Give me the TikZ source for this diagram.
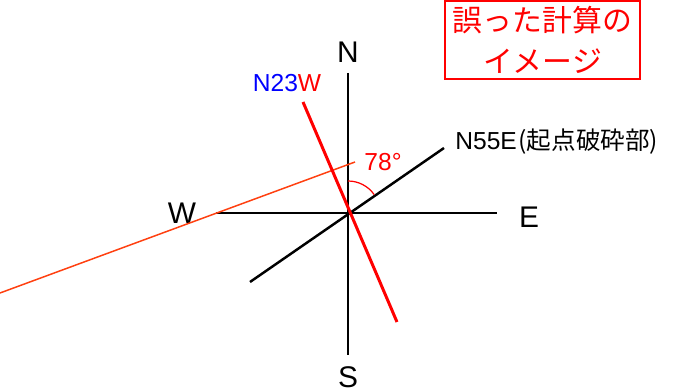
\documentclass[tikz,border=0pt]{standalone}
\usepackage{fontspec}
\setmainfont{Liberation Sans}
\newfontfamily\jp{Noto Sans CJK JP}
\usepackage{tikz}
\usetikzlibrary{positioning,calc}
\definecolor{wrongred}{HTML}{FF0000}
\definecolor{guide}{HTML}{FF4010}
\definecolor{bearing}{HTML}{0000FF}

\begin{document}
\begin{tikzpicture}[
  x=0.02cm, y=-0.02cm,
  axis/.style={line width=1.4pt, black},
  strike/.style={line width=1.7pt, wrongred},
  helper/.style={line width=0.85pt, guide},
  dir/.style={font=\fontsize{17}{20}\selectfont, inner sep=0pt},
  lbl/.style={font=\fontsize{14}{17}\selectfont, inner sep=0pt},
  note/.style={draw=wrongred, line width=1pt, text=wrongred, align=center,
    font=\jp\fontsize{17}{23}\selectfont, minimum width=195*0.02cm, minimum height=74*0.02cm}
]
  \useasboundingbox (0,0) rectangle (687,391);

  % Kompass
  \coordinate (c) at (348,213);
  \coordinate (nTop) at (348,73);
  \coordinate (sBot) at (348,355);
  \coordinate (wEnd) at (216,213);
  \coordinate (eEnd) at (497,213);
  \coordinate (neA) at (250,282);
  \coordinate (neB) at (444,148);
  \coordinate (rA) at (303,102);
  \coordinate (rB) at (397,322);
  \coordinate (oA) at (0,293);
  \coordinate (oB) at (355,162);

  \node[dir] (n) at (348,52) {N};
  \node[dir] (s) at (348,377) {S};
  \node[dir] (w) at (182,213) {W};
  \node[dir] (e) at (529,217) {E};

  \draw[axis] (nTop) -- (sBot);
  \draw[axis] (wEnd) -- (eEnd);
  \draw[axis] (neA) -- (neB);

  % falsche Linie
  \draw[helper] (oA) -- (oB);
  \draw[strike] (rA) -- (rB);
  \draw[wrongred, line width=0.7pt] ($(c)+(0,-32)$) arc[start angle=-90, end angle=-35, radius=32];

  % Beschriftungen
  \node[lbl] (nw) at (287,83) {\textcolor{bearing}{N23}\textcolor{wrongred}{W}};
  \node[lbl, text=wrongred] (ang) at (383,162) {78°};
  \node[lbl, anchor=west] (ne) at (455,142) {N55E{\jp\kern1pt(起点破砕部)}};

  \node[note] (box) at (542.5,40) {誤った計算の\\イメージ};

\end{tikzpicture}
\end{document}
